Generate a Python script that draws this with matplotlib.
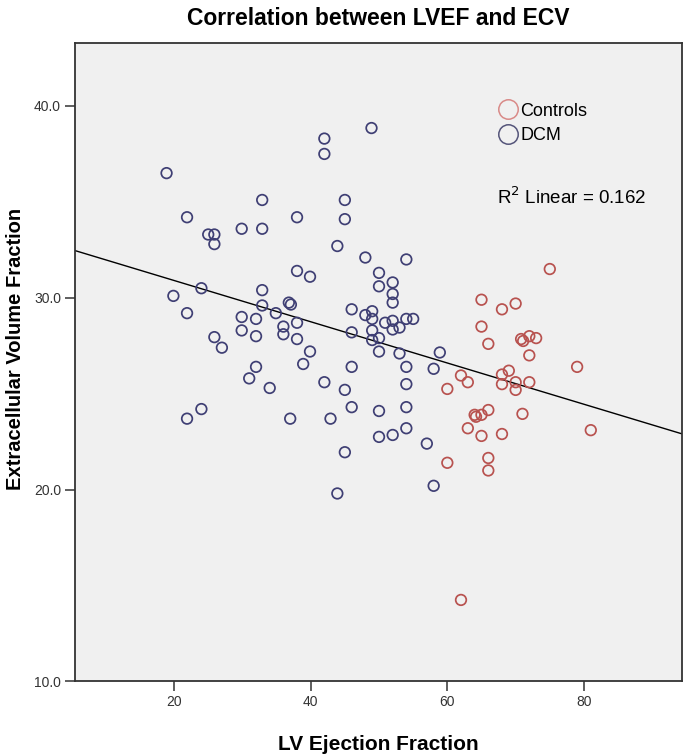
import numpy as np
import matplotlib
matplotlib.use("Agg")
import matplotlib.pyplot as plt
from matplotlib.lines import Line2D

plt.rcParams['font.family'] = ['Liberation Sans', 'DejaVu Sans']

# DCM patients: LV ejection fraction (%) and ECV (%)
dcm_lvef = [18.9, 32.9, 21.9, 38.0, 29.9, 32.9, 25.0, 25.9, 25.9, 38.0,
            39.9, 19.9, 24.0, 32.9, 32.9, 36.8, 37.1, 34.9, 38.0, 21.9,
            29.9, 32.0, 29.9, 32.0, 36.0, 36.0, 38.0, 25.9, 27.0, 39.9,
            38.9, 32.0, 31.0, 34.0, 24.0, 21.9, 37.0, 48.9, 42.0, 42.0,
            45.0, 45.0, 43.9, 48.0, 54.0, 50.0, 50.0, 52.0, 52.0, 52.0,
            46.0, 48.0, 49.0, 49.0, 50.9, 52.0, 54.0, 55.0, 53.0, 52.0,
            46.0, 49.0, 49.0, 50.0, 50.0, 53.0, 58.9, 42.0, 45.0, 54.0,
            46.0, 54.0, 58.0, 46.0, 50.0, 54.0, 42.9, 50.0, 52.0, 54.0,
            57.0, 45.0, 43.9, 58.0]
dcm_ecv = [36.5, 35.1, 34.2, 34.2, 33.6, 33.6, 33.3, 33.3, 32.8, 31.4,
           31.1, 30.1, 30.5, 30.4, 29.6, 29.75, 29.65, 29.2, 28.7, 29.2,
           29.0, 28.9, 28.3, 28.0, 28.5, 28.1, 27.85, 27.95, 27.4, 27.2,
           26.55, 26.4, 25.8, 25.3, 24.2, 23.7, 23.7, 38.85, 38.3, 37.5,
           35.1, 34.1, 32.7, 32.1, 32.0, 31.3, 30.6, 30.8, 30.2, 29.75,
           29.4, 29.1, 29.3, 28.9, 28.7, 28.8, 28.9, 28.9, 28.45, 28.35,
           28.2, 28.3, 27.8, 27.9, 27.2, 27.1, 27.15, 25.6, 25.2, 25.5,
           26.4, 26.4, 26.3, 24.3, 24.1, 24.3, 23.7, 22.75, 22.85, 23.2,
           22.4, 21.95, 19.8, 20.2]

# Controls
ctl_lvef = [75.0, 65.0, 68.0, 70.0, 65.0, 66.0, 70.8, 71.1, 72.0, 73.0,
            72.0, 79.0, 62.0, 63.0, 60.0, 69.0, 68.0, 68.0, 70.0, 70.0,
            72.0, 66.0, 64.0, 65.0, 71.0, 63.0, 65.0, 68.0, 81.0, 60.0,
            66.0, 66.0, 62.0, 64.2]
ctl_ecv = [31.5, 29.9, 29.4, 29.7, 28.5, 27.6, 27.85, 27.75, 28.0, 27.9,
           27.0, 26.4, 25.95, 25.6, 25.25, 26.2, 26.0, 25.5, 25.6, 25.2,
           25.6, 24.15, 23.9, 23.9, 23.95, 23.2, 22.8, 22.9, 23.1, 21.4,
           21.65, 21.0, 14.25, 23.8]

r2_text = "R$^2$ Linear = 0.162"

blue = '#3f3f74'
red = '#b8524f'
frame = '#333333'

fig = plt.figure(figsize=(6.85, 7.54), dpi=100)
ax = fig.add_axes([0.1095, 0.0962, 0.8861, 0.8472])
ax.set_facecolor('#f0f0f0')

ax.scatter(dcm_lvef, dcm_ecv, s=58, facecolors='none', edgecolors=blue,
           linewidths=1.25, zorder=3)
ax.scatter(ctl_lvef, ctl_ecv, s=58, facecolors='none', edgecolors=red,
           linewidths=1.25, zorder=3)

# linear fit on all subjects
all_x = np.array(dcm_lvef + ctl_lvef)
all_y = np.array(dcm_ecv + ctl_ecv)
k, b = np.polyfit(all_x, all_y, 1)
xlim = (5.5, 94.35)
xs = np.array(xlim)
ax.plot(xs, k * xs + b, color='black', lw=1.0, zorder=2)

ax.set_xlim(*xlim)
ax.set_ylim(10, 43.3)
ax.set_xticks([20, 40, 60, 80])
ax.set_yticks([10, 20, 30, 40])
ax.set_yticklabels(['10.0', '20.0', '30.0', '40.0'])

for sp in ax.spines.values():
    sp.set_color(frame)
    sp.set_linewidth(1.3)
ax.tick_params(direction='out', length=7, width=1.1, color=frame,
               labelsize=10, labelcolor='#333333', pad=3)

ax.set_xlabel('LV Ejection Fraction', fontsize=15, fontweight='bold')
ax.set_ylabel('Extracellular Volume Fraction', fontsize=14.5, fontweight='bold')
ax.xaxis.set_label_coords(0.5, -0.084)
ax.yaxis.set_label_coords(-0.083, 0.52)

fig.text(0.5526, 0.976, 'Correlation between LVEF and ECV', ha='center',
         va='center', fontsize=16.5, fontweight='bold')

handles = [Line2D([], [], ls='none', marker='o', markersize=14, mfc='none',
                  mec='#d98a88', mew=1.1, label='Controls'),
           Line2D([], [], ls='none', marker='o', markersize=14, mfc='none',
                  mec='#55557a', mew=1.1, label='DCM')]
ax.legend(handles=handles, loc='upper left', bbox_to_anchor=(0.68, 0.92),
          frameon=False, fontsize=13, handletextpad=0.1, labelspacing=0.4,
          handlelength=1.2, borderpad=0)

ax.text(0.696, 0.758, r2_text, transform=ax.transAxes, fontsize=13.5,
        va='center', ha='left')

fig.savefig('out.png', dpi=100)
